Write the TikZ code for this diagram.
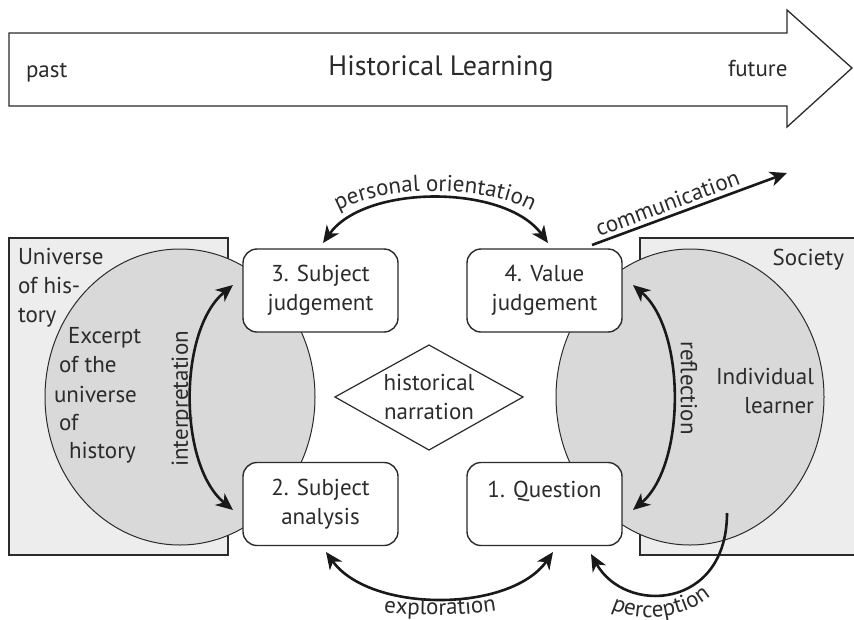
\documentclass[tikz,border=0pt]{standalone}
\usepackage{fontspec}
\setmainfont{PT Sans}
\usetikzlibrary{arrows.meta,decorations.text}
\definecolor{ln}{HTML}{2B2B2B}
\definecolor{boxgray}{HTML}{EDEDED}
\definecolor{circgray}{HTML}{D9D9D9}
\newcommand{\bfnt}{\fontsize{23}{29}\selectfont}
\newcommand{\tfnt}{\fontsize{28}{34}\selectfont}
\begin{document}
\begin{tikzpicture}[x=1pt,y=-1pt,
  every node/.style={inner sep=0pt, outer sep=0pt, text=ln, font=\bfnt},
  stepbox/.style={draw=ln, line width=1.4pt, rounded corners=14pt, fill=white,
    minimum width=155pt, minimum height=83pt, align=center},
  areabox/.style={draw=ln, line width=1.4pt, fill=boxgray},
  learnarea/.style={draw=ln, line width=1pt, fill=circgray},
  conn/.style={draw=black!90, line width=2.6pt},
  onehead/.style={conn, -{Stealth[length=17pt,width=15pt,inset=5pt]}},
  twohead/.style={conn, {Stealth[length=17pt,width=15pt,inset=5pt]}-{Stealth[length=17pt,width=15pt,inset=5pt]}},
  curvelabel/.style={decorate, decoration={text along path, text align=center, text color=ln}}
]
\useasboundingbox (0,0) rectangle (854,619);
\fill[white] (0,0) rectangle (854,619);

% big time arrow
\draw[ln, line width=1.3pt, fill=white] (9,33) -- (787,33) -- (787,10) -- (852,68)
  -- (787,127) -- (787,106) -- (9,106) -- cycle;
\node[anchor=base west] (past) at (26,77) {past};
\node[anchor=base, font=\tfnt] (title) at (441,75) {Historical Learning};
\node[anchor=base west] (future) at (728,76) {future};

% areas
\draw[areabox] (9,238) rectangle (228,555);
\draw[areabox] (640,238) rectangle (870,555);
\draw[learnarea] (180,397) ellipse [x radius=135, y radius=148];
\draw[learnarea] (690,397) ellipse [x radius=134, y radius=148];

\node[anchor=base west, align=left] (univ) at (18,322) {Universe\\of his-\\tory};
\node[anchor=base west] (ex1) at (68,343) {Excerpt};
\node[anchor=base west] (ex2) at (59,372) {of the};
\node[anchor=base west] (ex3) at (54,402) {universe};
\node[anchor=base west] (ex4) at (59,430) {of};
\node[anchor=base west] (ex5) at (69,458) {history};
\node[anchor=base east] (soc) at (844,265) {Society};
\node[anchor=base east, align=right] (indiv) at (814,413) {Individual\\learner};

% step boxes
\node[stepbox] (b3) at (320.5,290.5) {3. Subject\\judgement};
\node[stepbox] (b4) at (544.5,290.5) {4. Value\\judgement};
\node[stepbox] (b2) at (320.5,504) {2. Subject\\analysis};
\node[stepbox] (b1) at (544.5,504) {1. Question\\\mbox{}};

% narration diamond
\node[align=center] (nar) at (429,397) {historical\\narration};
\draw[ln, line width=1.2pt] (335,397) -- (429,345) -- (523,397) -- (429,450) -- cycle;

% connector end points
\coordinate (poA) at (323,243);
\coordinate (poB) at (548,243);
\coordinate (inA) at (233,285);
\coordinate (inB) at (233,510);
\coordinate (reA) at (633,285);
\coordinate (reB) at (633,510);
\coordinate (exA) at (326,552);
\coordinate (exB) at (553,552);
\coordinate (peS) at (727,513);
\coordinate (peB) at (591,554);
\coordinate (coS) at (592,245);
\coordinate (coE) at (787,173);

% connectors
\draw[twohead] (poA) .. controls (365,184) and (505,184) .. (poB);
\draw[twohead] (inA) .. controls (178,330) and (178,465) .. (inB);
\draw[twohead] (reA) .. controls (686,330) and (686,465) .. (reB);
\draw[twohead] (exA) .. controls (370,613) and (510,613) .. (exB);
\draw[onehead] (peS) .. controls (727,610) and (625,615) .. (peB);
\draw[onehead] (coS) -- node[pos=0.41, above=5pt, sloped] (comm) {communication} (coE);

% labels
\path[curvelabel, decoration={text={|\bfnt|personal orientation}}]
  (326,219) .. controls (368,182) and (502,182) .. (544,219);
\path[curvelabel, decoration={text={|\bfnt|exploration}}]
  (370,610) .. controls (410,617) and (470,617) .. (510,608);
\path[curvelabel, decoration={text={|\bfnt|perception}}]
  (598,600) .. controls (625,625) and (690,625) .. (722,585);
\node[rotate=90] (interp) at (182,399) {interpretation};
\node[rotate=-90] (refl) at (689,388) {reflection};
\end{tikzpicture}
\end{document}
